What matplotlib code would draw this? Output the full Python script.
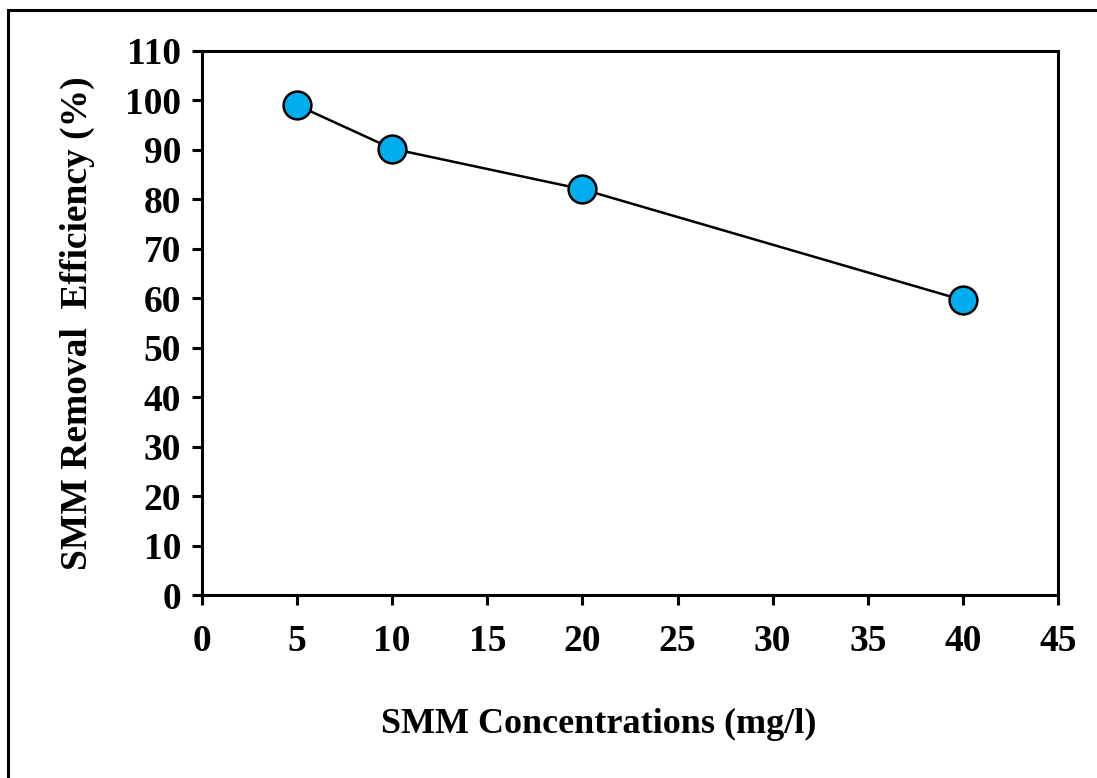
import matplotlib

matplotlib.use("Agg")
import matplotlib.pyplot as plt
from matplotlib.patches import Rectangle

# data
concentrations = [5, 10, 20, 40]
removal_efficiency = [99.0, 90.2, 82.0, 59.6]
x_ticks = [0, 5, 10, 15, 20, 25, 30, 35, 40, 45]
y_ticks = [0, 10, 20, 30, 40, 50, 60, 70, 80, 90, 100, 110]

plt.rcParams["font.family"] = ["Liberation Serif", "DejaVu Serif"]
plt.rcParams["font.weight"] = "bold"

fig = plt.figure(figsize=(10.97, 7.78), dpi=100)
ax = fig.add_axes([0.1841, 0.2352, 0.7803, 0.6996])

# outer frame, cut off at right and bottom like the source image
fig.patches.append(
    Rectangle((0.0073, -0.05), 1.2, 0.987 + 0.05, transform=fig.transFigure,
              fill=False, edgecolor="black", linewidth=2.2, zorder=0)
)

ax.plot(concentrations, removal_efficiency, color="black", linewidth=1.8,
        marker="o", markersize=20, markerfacecolor="#00AEEF",
        markeredgecolor="black", markeredgewidth=1.8, clip_on=False)

ax.set_xlim(0, 45)
ax.set_ylim(0, 110)
ax.set_xticks(x_ticks)
ax.set_yticks(y_ticks)
ax.tick_params(axis="both", direction="out", length=7, width=2.2,
               labelsize=27, top=False, right=False)
ax.tick_params(axis="x", pad=14)
ax.tick_params(axis="y", pad=8)
for label in ax.get_xticklabels() + ax.get_yticklabels():
    label.set_fontweight("bold")
for spine in ax.spines.values():
    spine.set_linewidth(2.2)

ax.set_xlabel("SMM Concentrations (mg/l)", fontsize=26, fontweight="bold")
ax.xaxis.set_label_coords(0.464, -0.208)
ax.set_ylabel("SMM Removal  Efficiency (%)", fontsize=27, fontweight="bold",
              labelpad=22)

fig.savefig("out.png", dpi=100)
plt.close(fig)
